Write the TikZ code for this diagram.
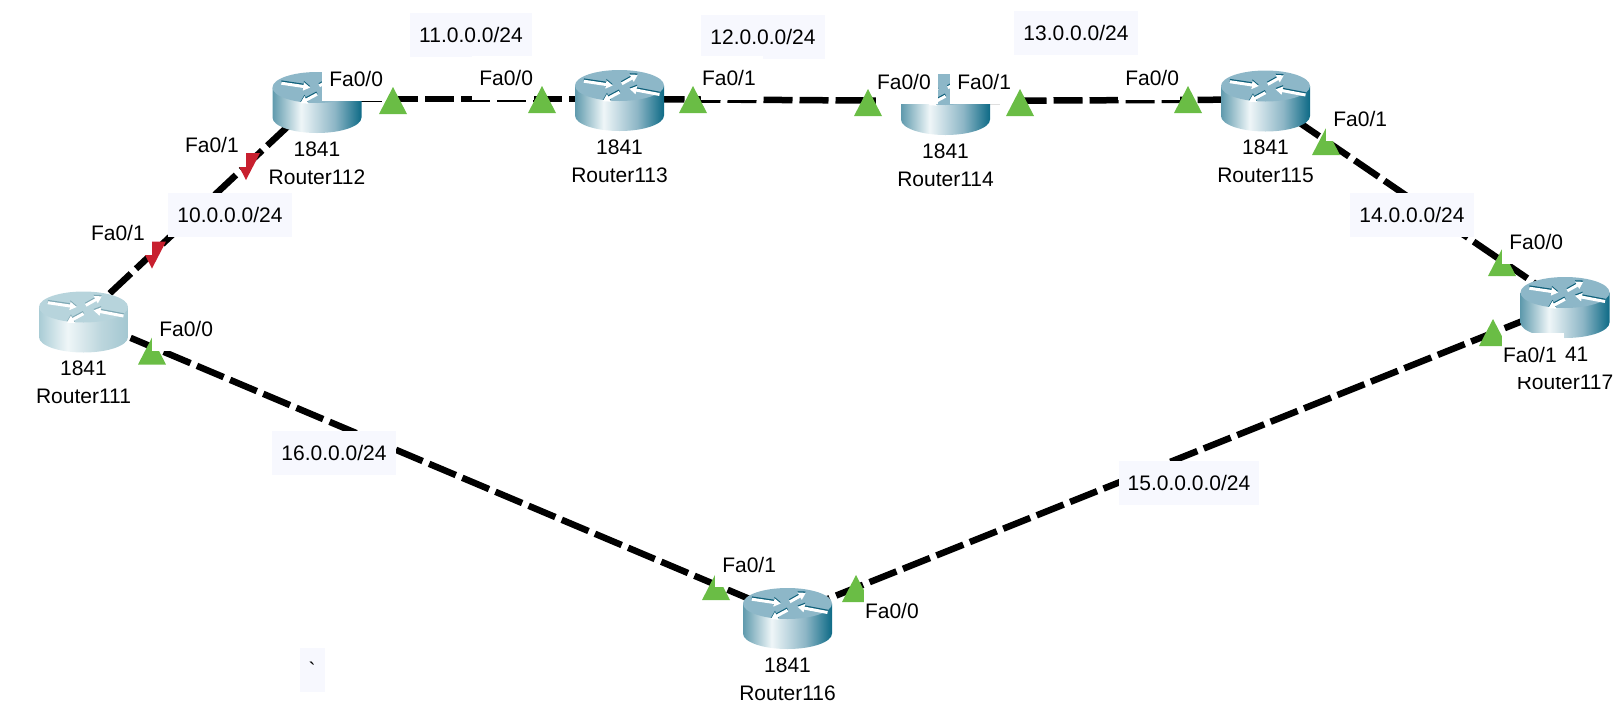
\documentclass[tikz,border=0pt]{standalone}
\usepackage{fontspec}
\setmainfont{Liberation Sans}
\newfontfamily\plainfont{Liberation Sans}
\usetikzlibrary{arrows.meta,backgrounds}

\definecolor{routertopmain}{HTML}{8DB7C8}
\definecolor{routerinkmain}{HTML}{0D5F7A}
\definecolor{routertoppale}{HTML}{B7D4DC}
\definecolor{routerinkpale}{HTML}{7FA9B5}
\definecolor{netfill}{HTML}{F7F8FE}
\definecolor{portgreen}{HTML}{6ABD45}
\definecolor{portred}{HTML}{C8202F}
\definecolor{edgemain}{HTML}{5F9AAD}
\definecolor{midmain}{HTML}{8DB6C6}
\definecolor{darkmain}{HTML}{0D6A86}
\definecolor{lightbody}{HTML}{EFF6F8}
\definecolor{edgepale}{HTML}{A9CCD5}
\definecolor{midpale}{HTML}{BCD6DD}
\definecolor{darkpale}{HTML}{A3C7D1}
\pgfdeclarehorizontalshading{routerbodymain}{100bp}{color(0bp)=(edgemain); color(25bp)=(edgemain); color(41bp)=(lightbody); color(60bp)=(midmain); color(75bp)=(darkmain); color(100bp)=(darkmain)}
\pgfdeclarehorizontalshading{routerbodypale}{100bp}{color(0bp)=(edgepale); color(25bp)=(edgepale); color(41bp)=(lightbody); color(60bp)=(midpale); color(75bp)=(darkpale); color(100bp)=(darkpale)}

\newcommand{\routericon}[2]{%
	\begin{scope}[x=1pt,y=1pt,shift={(#2)},yshift=-\dy pt]
		\shade[shading=routerbody#1] (-44.5,15) -- (-44.5,-15) arc (180:360:44.5 and 15.5) -- (44.5,15) -- cycle;
		\fill[routertop#1] (0,15) ellipse (44.5 and 15.5);
		\foreach \ax/\ay/\bx/\by in {-35.7/19.3/-6.7/15,0/8.3/-16.7/-0.7,2.3/16.7/18.3/25.7,40/6/10/11.7} {
			\draw[routerink#1,line width=3pt,-{Triangle[length=7pt,width=8pt]}] (\ax,\ay+1.3) -- (\bx,\by+1.3);
			\draw[white,line width=3pt,-{Triangle[length=7pt,width=8pt]}] (\ax,\ay) -- (\bx,\by);
		}
	\end{scope}}

\begin{document}
\begin{tikzpicture}[
		x=1pt,y=-1pt,
		every node/.style={font=\fontsize{21}{24}\selectfont,text=black},
		router/.style={rectangle,inner sep=0pt,minimum width=89pt,minimum height=61pt},
		devtext/.style={inner sep=0pt,text height=15pt,text depth=0pt},
		netlabel/.style={fill=netfill,inner xsep=9pt,inner ysep=0pt,minimum height=44pt,text height=15pt,text depth=0pt},
		portlabel/.style={fill=white,inner xsep=1pt,inner ysep=0pt,minimum height=44pt,text width=60pt,text height=15pt,text depth=0pt,align=#1},
		link/.style={draw=black,line width=6.5pt,dash pattern=on 29pt off 7pt}]
	\useasboundingbox (0,0) rectangle (1622,702);
	% Routers
	\foreach \id/\x/\y/\kind/\dy in {111/83.5/318/pale/4,112/317/99/main/3.5,113/619.5/99/main/1.5,114/945.5/101/main/3.5,115/1265.5/99.5/main/1.5,116/787.5/615/main/3.5,117/1565/304/main/3.5} {
		\node[router] (r\id) at (\x,\y) {};
		\routericon{\kind}{r\id.center}
		\node[devtext,yshift={-(\dy+46)*1pt}] (m\id) at (r\id) {1841};
		\node[devtext,yshift={-(\dy+74)*1pt}] (n\id) at (r\id) {Router\id};
	}
	% Links
	\begin{scope}[on background layer]
		\path[link] (r111.center) -- (r112.center);
		\path[link] (r112.center) -- (r113.center);
		\path[link] (r113.center) -- (r114.center);
		\path[link] (r114.center) -- (r115.center);
		\path[link] (r115.center) -- (r117.center);
		\path[link] (r117.center) -- (r116.center);
		\path[link] (r116.center) -- (r111.center);
	\end{scope}
	% Port lights
	\foreach \tx/\ty in {152/337.5,393/87,542/86,693/86,868/89,1020/89,1188/86,1326/128,1502/249,1493/319,856/575,716/573}
		\fill[portgreen] (\tx-14,\ty+27) -- (\tx+14,\ty+27) -- (\tx,\ty) -- cycle;
	\foreach \tx/\ty in {152/268.5,246/180}
		\fill[portred] (\tx-14,\ty-27) -- (\tx+14,\ty-27) -- (\tx,\ty) -- cycle;
	% Networks
	\node[netlabel] (net10) at (230,215) {10.0.0.0/24};
	\node[netlabel] (net11) at (471,35) {11.0.0.0/24};
	\node[netlabel] (net12) at (763,37) {12.0.0.0/24};
	\node[netlabel] (net13) at (1076,33) {13.0.0.0/24};
	\node[netlabel] (net14) at (1412,215) {14.0.0.0/24};
	\node[netlabel] (net15) at (1189,483) {15.0.0.0.0/24};
	\node[netlabel] (net16) at (334,453) {16.0.0.0/24};
	\node[netlabel] (tick) at (312,670) {\plainfont\char96};
	% Ports
	\node[portlabel=right] (p111a) at (183,329) {Fa0/0};
	\node[portlabel=left] (p111b) at (121,233) {Fa0/1};
	\node[portlabel=left] (p112b) at (215,145) {Fa0/1};
	\node[portlabel=right] (p112a) at (353,79) {Fa0/0};
	\node[portlabel=right] (p113a) at (503,78) {Fa0/0};
	\node[portlabel=left] (p113b) at (732,78) {Fa0/1};
	\node[portlabel=left] (p114a) at (907,82) {Fa0/0};
	\node[portlabel=right] (p114b) at (981,82) {Fa0/1};
	\node[portlabel=right] (p115a) at (1149,78) {Fa0/0};
	\node[portlabel=right] (p115b) at (1357,119) {Fa0/1};
	\node[portlabel=right] (p117a) at (1533,242) {Fa0/0};
	\node[portlabel=left] (p117b) at (1533,355) {Fa0/1};
	\node[portlabel=right] (p116b) at (746,565) {Fa0/1};
	\node[portlabel=left] (p116a) at (895,611) {Fa0/0};
\end{tikzpicture}
\end{document}
